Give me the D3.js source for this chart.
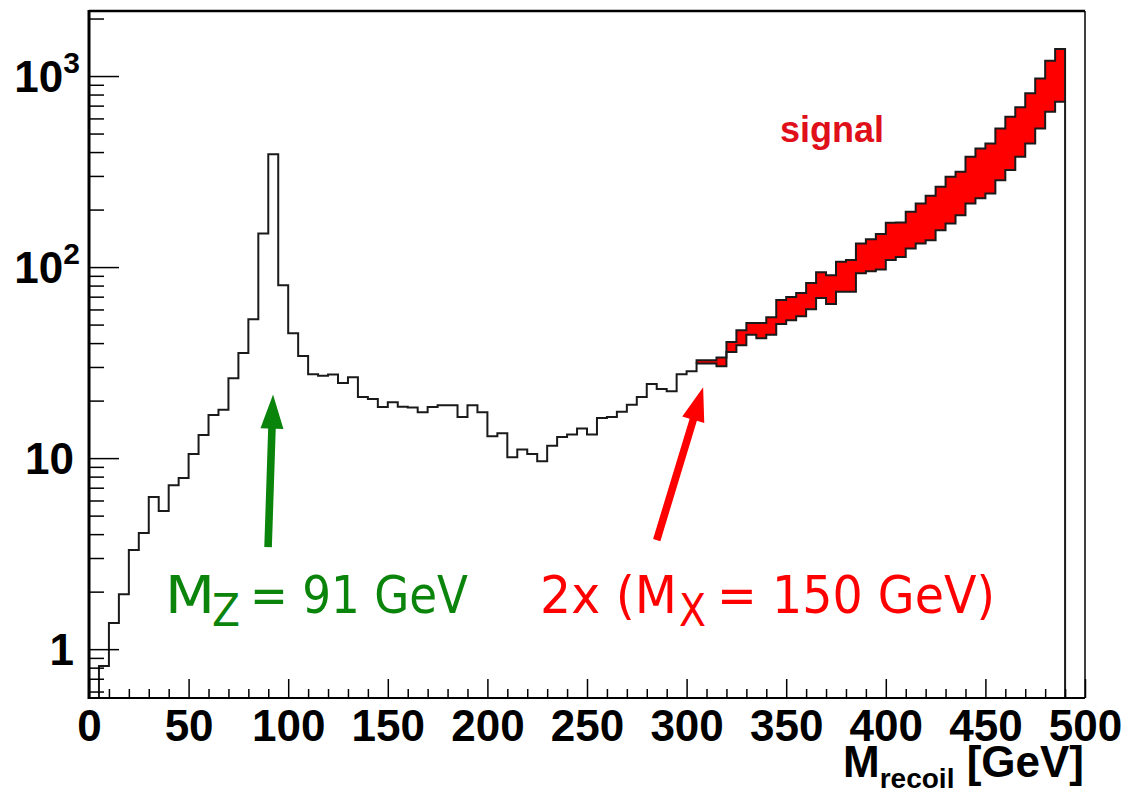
<!DOCTYPE html>
<html><head><meta charset="utf-8">
<script src="https://cdn.jsdelivr.net/npm/d3@7"></script>
<style>body{margin:0;background:#fff} svg{display:block}</style>
</head><body>
<svg id="c" width="1142" height="791"></svg>
<script>
// ---------- data ----------
const binWidth = 5;
const binLow = d3.range(0, 500, binWidth);           // histogram bins 0..500 GeV
const background = [
  0, 0.815, 1.37, 1.94, 3.30, 4.05, 6.25, 5.28, 7.22, 7.86,
  10.5, 13.2, 16.8, 17.9, 26.2, 35.5, 53.4, 150, 390, 80.4,
  45.1, 34.2, 27.5, 27.0, 27.4, 24.7, 26.5, 20.9, 20.4, 18.5,
  19.6, 18.6, 18.4, 17.4, 18.5, 18.9, 18.9, 16.4, 18.9, 17.4,
  13.0, 13.5, 10.1, 11.1, 10.5, 9.64, 11.6, 12.9, 13.3, 14.3,
  13.3, 16.2, 16.4, 17.5, 19.0, 20.9, 24.4, 23.0, 22.4, 27.5,
  28.5, 31.3, 31.3, 30.3, 35.9, 39.0, 44.2, 42.4, 44.2, 50.4,
  52.7, 55.3, 60.1, 68.9, 64.0, 74.3, 74.3, 92.7, 95, 97,
  108.8, 113, 125, 133, 138, 156, 169, 187, 215, 229,
  243, 285, 322, 378, 444, 532, 650, 734, 0, 0
];
const signalStart = 305;   // first bin carrying signal
const stackTop = [         // background + signal, bins 305..485
  32.5, 32.5, 33.6, 40.5, 46.7, 50.9, 50.9, 54.7, 67.2, 69.8,
  73.1, 82.5, 94.0, 90.7, 106.6, 108.8, 133, 139.7, 148.9, 170.6,
  171, 194.9, 215.4, 236, 263, 297, 315.5, 378, 418, 444,
  532, 612, 686, 812, 972, 1202, 1384
];
const xMajor = [0, 50, 100, 150, 200, 250, 300, 350, 400, 450, 500];
const xMinor = [10,20,30,40,60,70,80,90,110,120,130,140,160,170,180,190,210,220,230,240,
                260,270,280,290,310,320,330,340,360,370,380,390,410,420,430,440,460,470,480,490];
const yMajor = [1, 10, 100, 1000];
const yLabelBase = ["1", "10", "10", "10"];
const yLabelExp  = ["", "", "2", "3"];
const yMinor = [0.6,0.7,0.8,0.9,2,3,4,5,6,7,8,9,20,30,40,50,60,70,80,90,
                200,300,400,500,600,700,800,900,2000];
// annotation arrows in data coordinates [GeV, value]
const greenArrow = {from:[89.9, 3.42], to:[92.4, 21.5]};
const redArrow   = {from:[285.0, 3.72], to:[308.3, 23.5]};

// ---------- layout ----------
const W = 1142, H = 791;
const svg = d3.select("#c");
const x = d3.scaleLinear().domain([0, 500]).range([89, 1085]);
const yMin = 0.555, yMax = 2190;
const y = d3.scaleLog().domain([yMin, yMax]).range([698, 11]);
const yb = y.range()[0];
const yv = v => (v > yMin ? y(v) : yb);

const RED = "#ff0000", GREEN = "#0a840a";
const BOLD = "'Liberation Sans', Arial, Helvetica, sans-serif";

// ---------- signal band ----------
const sigIdx0 = binLow.indexOf(signalStart);
const bandPts = [];
stackTop.forEach((t, k) => {
  const i = sigIdx0 + k, lo = binLow[i];
  bandPts.push([x(lo), yv(background[i]), yv(t)]);
  bandPts.push([x(lo + binWidth), yv(background[i]), yv(t)]);
});
svg.append("path")
  .attr("d", d3.area().x(d => d[0]).y0(d => d[1]).y1(d => d[2])(bandPts))
  .attr("fill", RED).attr("stroke", "none");

// top outline of the stack
const topPts = [[bandPts[0][0], bandPts[0][1]]].concat(bandPts.map(d => [d[0], d[2]]));
topPts.push([bandPts[bandPts.length - 1][0], bandPts[bandPts.length - 1][1]]);
svg.append("path").attr("d", d3.line()(topPts))
  .attr("fill", "none").attr("stroke", "#1a1a1a").attr("stroke-width", 2);

// ---------- background histogram ----------
const bgPts = [[x(0), yb]];
background.forEach((v, i) => {
  bgPts.push([x(binLow[i]), yv(v)]);
  bgPts.push([x(binLow[i] + binWidth), yv(v)]);
});
bgPts.push([x(500), yb]);
svg.append("path").attr("d", d3.line()(bgPts))
  .attr("fill", "none").attr("stroke", "#1a1a1a").attr("stroke-width", 2);

// ---------- axes ----------
const gx = svg.append("g").attr("transform", `translate(0,${yb})`);
gx.call(d3.axisBottom(x).tickValues(xMajor).tickSizeInner(-19).tickSizeOuter(0).tickPadding(12));
gx.call(g => g.select(".domain").remove());
gx.selectAll("text").attr("font-family", BOLD).attr("font-weight", "bold")
  .attr("font-size", 44).attr("fill", "#000");
gx.selectAll("line").attr("stroke", "#000").attr("stroke-width", 1.5);
const gxm = svg.append("g").attr("transform", `translate(0,${yb})`);
gxm.call(d3.axisBottom(x).tickValues(xMinor).tickSizeInner(-9).tickSizeOuter(0).tickFormat(""));
gxm.call(g => g.select(".domain").remove());
gxm.selectAll("line").attr("stroke", "#000").attr("stroke-width", 1.5);

const gy = svg.append("g").attr("transform", `translate(${x(0)},0)`);
gy.call(d3.axisLeft(y).tickValues(yMajor).tickSizeInner(-30).tickSizeOuter(0).tickFormat(""));
gy.call(g => g.select(".domain").remove());
gy.selectAll("line").attr("stroke", "#000").attr("stroke-width", 1.5);
const gym = svg.append("g").attr("transform", `translate(${x(0)},0)`);
gym.call(d3.axisLeft(y).tickValues(yMinor).tickSizeInner(-15).tickSizeOuter(0).tickFormat(""));
gym.call(g => g.select(".domain").remove());
gym.selectAll("line").attr("stroke", "#000").attr("stroke-width", 1.5);

// y labels
yMajor.forEach((v, i) => {
  const t = svg.append("text")
    .attr("x", yLabelExp[i] ? 80 : 74).attr("y", y(v)).attr("dy", "0.36em")
    .attr("text-anchor", "end").attr("font-family", BOLD).attr("font-weight", "bold")
    .attr("font-size", 44).attr("fill", "#000").text(yLabelBase[i]);
  if (yLabelExp[i]) {
    t.append("tspan").attr("font-size", 30).attr("dy", "-0.62em").text(yLabelExp[i]);
  }
});

// frame
svg.append("line").attr("x1", x(0)).attr("x2", x(500)).attr("y1", 11).attr("y2", 11)
  .attr("stroke", "#000").attr("stroke-width", 2.5);
svg.append("line").attr("x1", x(500)).attr("x2", x(500)).attr("y1", 11).attr("y2", yb)
  .attr("stroke", "#000").attr("stroke-width", 1.5);
svg.append("line").attr("x1", x(0)).attr("x2", x(500)).attr("y1", yb).attr("y2", yb)
  .attr("stroke", "#000").attr("stroke-width", 2);
svg.append("line").attr("x1", x(0)).attr("x2", x(0)).attr("y1", 10).attr("y2", yb + 1)
  .attr("stroke", "#000").attr("stroke-width", 3);

// x title
const xt = svg.append("text").attr("x", 1084).attr("y", 777).attr("text-anchor", "end")
  .attr("font-family", BOLD).attr("font-weight", "bold").attr("font-size", 44).attr("fill", "#000");
xt.append("tspan").text("M");
xt.append("tspan").attr("font-size", 28).attr("dy", 11).text("recoil");
xt.append("tspan").attr("dy", -11).text(" [GeV]");

// "signal" label
svg.append("text").attr("x", 780).attr("y", 142).attr("font-family", BOLD)
  .attr("font-weight", "bold").attr("font-size", 36).attr("fill", "#e0101a").text("signal");

// ---------- annotations ----------
function arrow(a, color) {
  const x0 = x(a.from[0]), y0 = y(a.from[1]), x1 = x(a.to[0]), y1 = y(a.to[1]);
  const dx = x1 - x0, dy = y1 - y0, L = Math.hypot(dx, dy);
  const ux = dx / L, uy = dy / L, px = -uy, py = ux;
  const sw = 3.8, hw = 11.5, hl = 34;
  const bx = x1 - ux * hl, by = y1 - uy * hl;
  const pts = [
    [x0 + px * sw, y0 + py * sw], [bx + px * sw, by + py * sw], [bx + px * hw, by + py * hw],
    [x1, y1], [bx - px * hw, by - py * hw], [bx - px * sw, by - py * sw], [x0 - px * sw, y0 - py * sw]
  ];
  svg.append("path").attr("d", "M" + pts.map(p => p.join(",")).join("L") + "Z").attr("fill", color);
}
arrow(greenArrow, GREEN);
arrow(redArrow, RED);

const COMIC = "'DejaVu Sans', sans-serif";
function txt(s, xx, yy, fs, w, color) {
  svg.append("text").attr("x", xx).attr("y", yy).attr("font-family", COMIC)
    .attr("font-size", fs).attr("fill", color)
    .attr("textLength", w).attr("lengthAdjust", "spacingAndGlyphs").text(s);
}
txt("M", 165, 613, 52, 50, GREEN);
txt("Z", 212, 626, 44, 28, GREEN);
txt("= 91 GeV", 250, 613, 52, 218, GREEN);
txt("2x (M", 540, 613, 52, 137, RED);
txt("X", 679, 626, 44, 27, RED);
txt("= 150 GeV)", 717, 613, 52, 278, RED);
</script>
</body></html>
